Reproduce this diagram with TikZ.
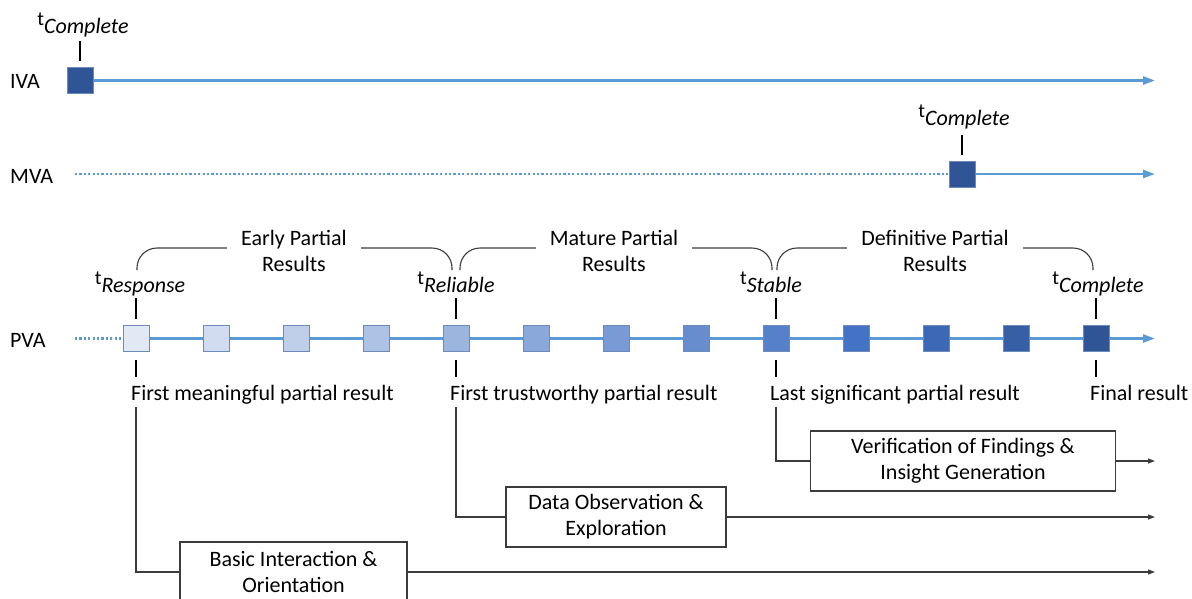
\documentclass[tikz,border=0pt]{standalone}
\usepackage{fontspec}
\setmainfont{Carlito}
\usetikzlibrary{arrows.meta}

\definecolor{lineblue}{RGB}{91,155,213}
\definecolor{sqlight}{RGB}{226,233,245}
\definecolor{sqmid}{RGB}{68,114,196}
\definecolor{sqdark}{RGB}{47,85,151}
\definecolor{sqedge}{RGB}{110,138,185}
\definecolor{wiregray}{RGB}{60,60,60}

\newcommand{\tname}[1]{{\fontsize{20}{20}\selectfont t}\raisebox{-8pt}{\itshape #1}}

\begin{document}
\begin{tikzpicture}[x=1pt, y=-1pt, font=\fontsize{22}{26}\selectfont,
    blueline/.style={lineblue, line width=2.6pt},
    timeline/.style={blueline, -{Triangle[length=12pt, width=8pt]}},
    pending/.style={blueline, dash pattern=on 2.2pt off 2.2pt},
    result/.style={rectangle, draw=sqedge, line width=1pt, minimum size=26pt, inner sep=0pt},
    tickline/.style={black, line width=1.1pt},
    wire/.style={wiregray, line width=1.2pt},
    wirearrow/.style={wire, -{Triangle[length=7pt, width=5pt]}},
    bracket/.style={wire, line width=1.1pt, rounded corners=20pt},
    phase/.style={rectangle, draw=wiregray, line width=1.2pt, fill=white, align=center, minimum height=60pt, inner sep=0pt},
    tlabel/.style={anchor=base, inner sep=0pt},
    outcome/.style={anchor=base west, inner sep=0pt},
    span/.style={fill=white, align=center, inner xsep=14pt, inner ysep=0pt}]

  \useasboundingbox (0,0) rectangle (1192,598);
  \clip (0,0) rectangle (1192,598);

  % row names
  \node[anchor=west, inner sep=0pt] (iva) at (10,81)  {IVA};
  \node[anchor=west, inner sep=0pt] (mva) at (10,176) {MVA};
  \node[anchor=west, inner sep=0pt] (pva) at (10,340) {PVA};

  % IVA
  \node[result, fill=sqdark] (ivasq) at (80,80.5) {};
  \coordinate (ivaend) at (1155,80.5);
  \draw[timeline] (ivasq) -- (ivaend);
  \node[tlabel] (ivat) at (83,25) {\tname{Complete}};
  \draw[tickline] ([yshift=6pt]ivasq.north) -- ++(0,-20);

  % MVA
  \node[result, fill=sqdark] (mvasq) at (962,174) {};
  \coordinate (mvastart) at (75,174);
  \coordinate (mvaend) at (1155,174);
  \draw[pending] (mvastart) -- (mvasq);
  \draw[timeline] (mvasq) -- (mvaend);
  \node[tlabel] (mvat) at (964,117) {\tname{Complete}};
  \draw[tickline] ([yshift=6pt]mvasq.north) -- ++(0,-20);

  % PVA
  \foreach \i in {1,...,13} {
    \ifnum\i<11
      \pgfmathtruncatemacro{\p}{100*(\i-1)/9}
      \colorlet{sqfill}{sqmid!\p!sqlight}
    \else
      \pgfmathtruncatemacro{\p}{100*(\i-10)/3}
      \colorlet{sqfill}{sqdark!\p!sqmid}
    \fi
    \node[result, fill=sqfill] (p\i) at ({136+80*(\i-1)},338.5) {};
  }
  \foreach \i [evaluate=\i as \j using int(\i+1)] in {1,...,12}
    \draw[blueline] (p\i) -- (p\j);
  \coordinate (pvastart) at (75,338.5);
  \coordinate (pvaend) at (1155,338.5);
  \draw[pending] (pvastart) -- (p1);
  \draw[timeline] (p13) -- (pvaend);

  \node[tlabel] (tresp) at (140,284) {\tname{Response}};
  \node[tlabel] (trel)  at (456,284) {\tname{Reliable}};
  \node[tlabel] (tstab) at (771,284) {\tname{Stable}};
  \node[tlabel] (tcomp) at (1098,284) {\tname{Complete}};
  \foreach \i in {1,5,9,13} {
    \draw[tickline] ([yshift=6pt]p\i.north) -- ++(0,-21);
    \draw[tickline] ([yshift=-8pt]p\i.south) -- ++(0,17);
  }

  \node[outcome] (first)  at (131,400)  {First meaningful partial result};
  \node[outcome] (trust)  at (450,400)  {First trustworthy partial result};
  \node[outcome] (last)   at (770,400)  {Last significant partial result};
  \node[outcome] (final)  at (1090,400) {Final result};

  % spans of partial results
  \draw[bracket] (137,270) |- (294,248) -| (452,270);
  \draw[bracket] (460,270) |- (614,248) -| (772,270);
  \draw[bracket] (777,270) |- (935,248) -| (1093,270);
  \node[span] (early)      at (294,251) {Early Partial\\Results};
  \node[span] (mature)     at (614,251) {Mature Partial\\Results};
  \node[span] (definitive) at (935,251) {Definitive Partial\\Results};

  % phases
  \node[phase, minimum width=227pt] (basic)  at (293.5,572) {Basic Interaction \&\\Orientation};
  \node[phase, minimum width=220pt] (explore) at (616,517)  {Data Observation \&\\Exploration};
  \node[phase, minimum width=305pt] (verify) at (963,461)   {Verification of Findings \&\\Insight Generation};

  \coordinate (from1) at ([yshift=-3pt]first.south -| p1);
  \coordinate (from5) at ([yshift=-3pt]first.south -| p5);
  \coordinate (from9) at ([yshift=-3pt]first.south -| p9);
  \coordinate (end1) at (1155,572);
  \coordinate (end5) at (1155,517);
  \coordinate (end9) at (1155,461);

  \draw[wire] (from1) |- (basic);
  \draw[wire] (from5) |- (explore);
  \draw[wire] (from9) |- (verify);
  \draw[wirearrow] (basic) -- (end1);
  \draw[wirearrow] (explore) -- (end5);
  \draw[wirearrow] (verify) -- (end9);
\end{tikzpicture}
\end{document}
